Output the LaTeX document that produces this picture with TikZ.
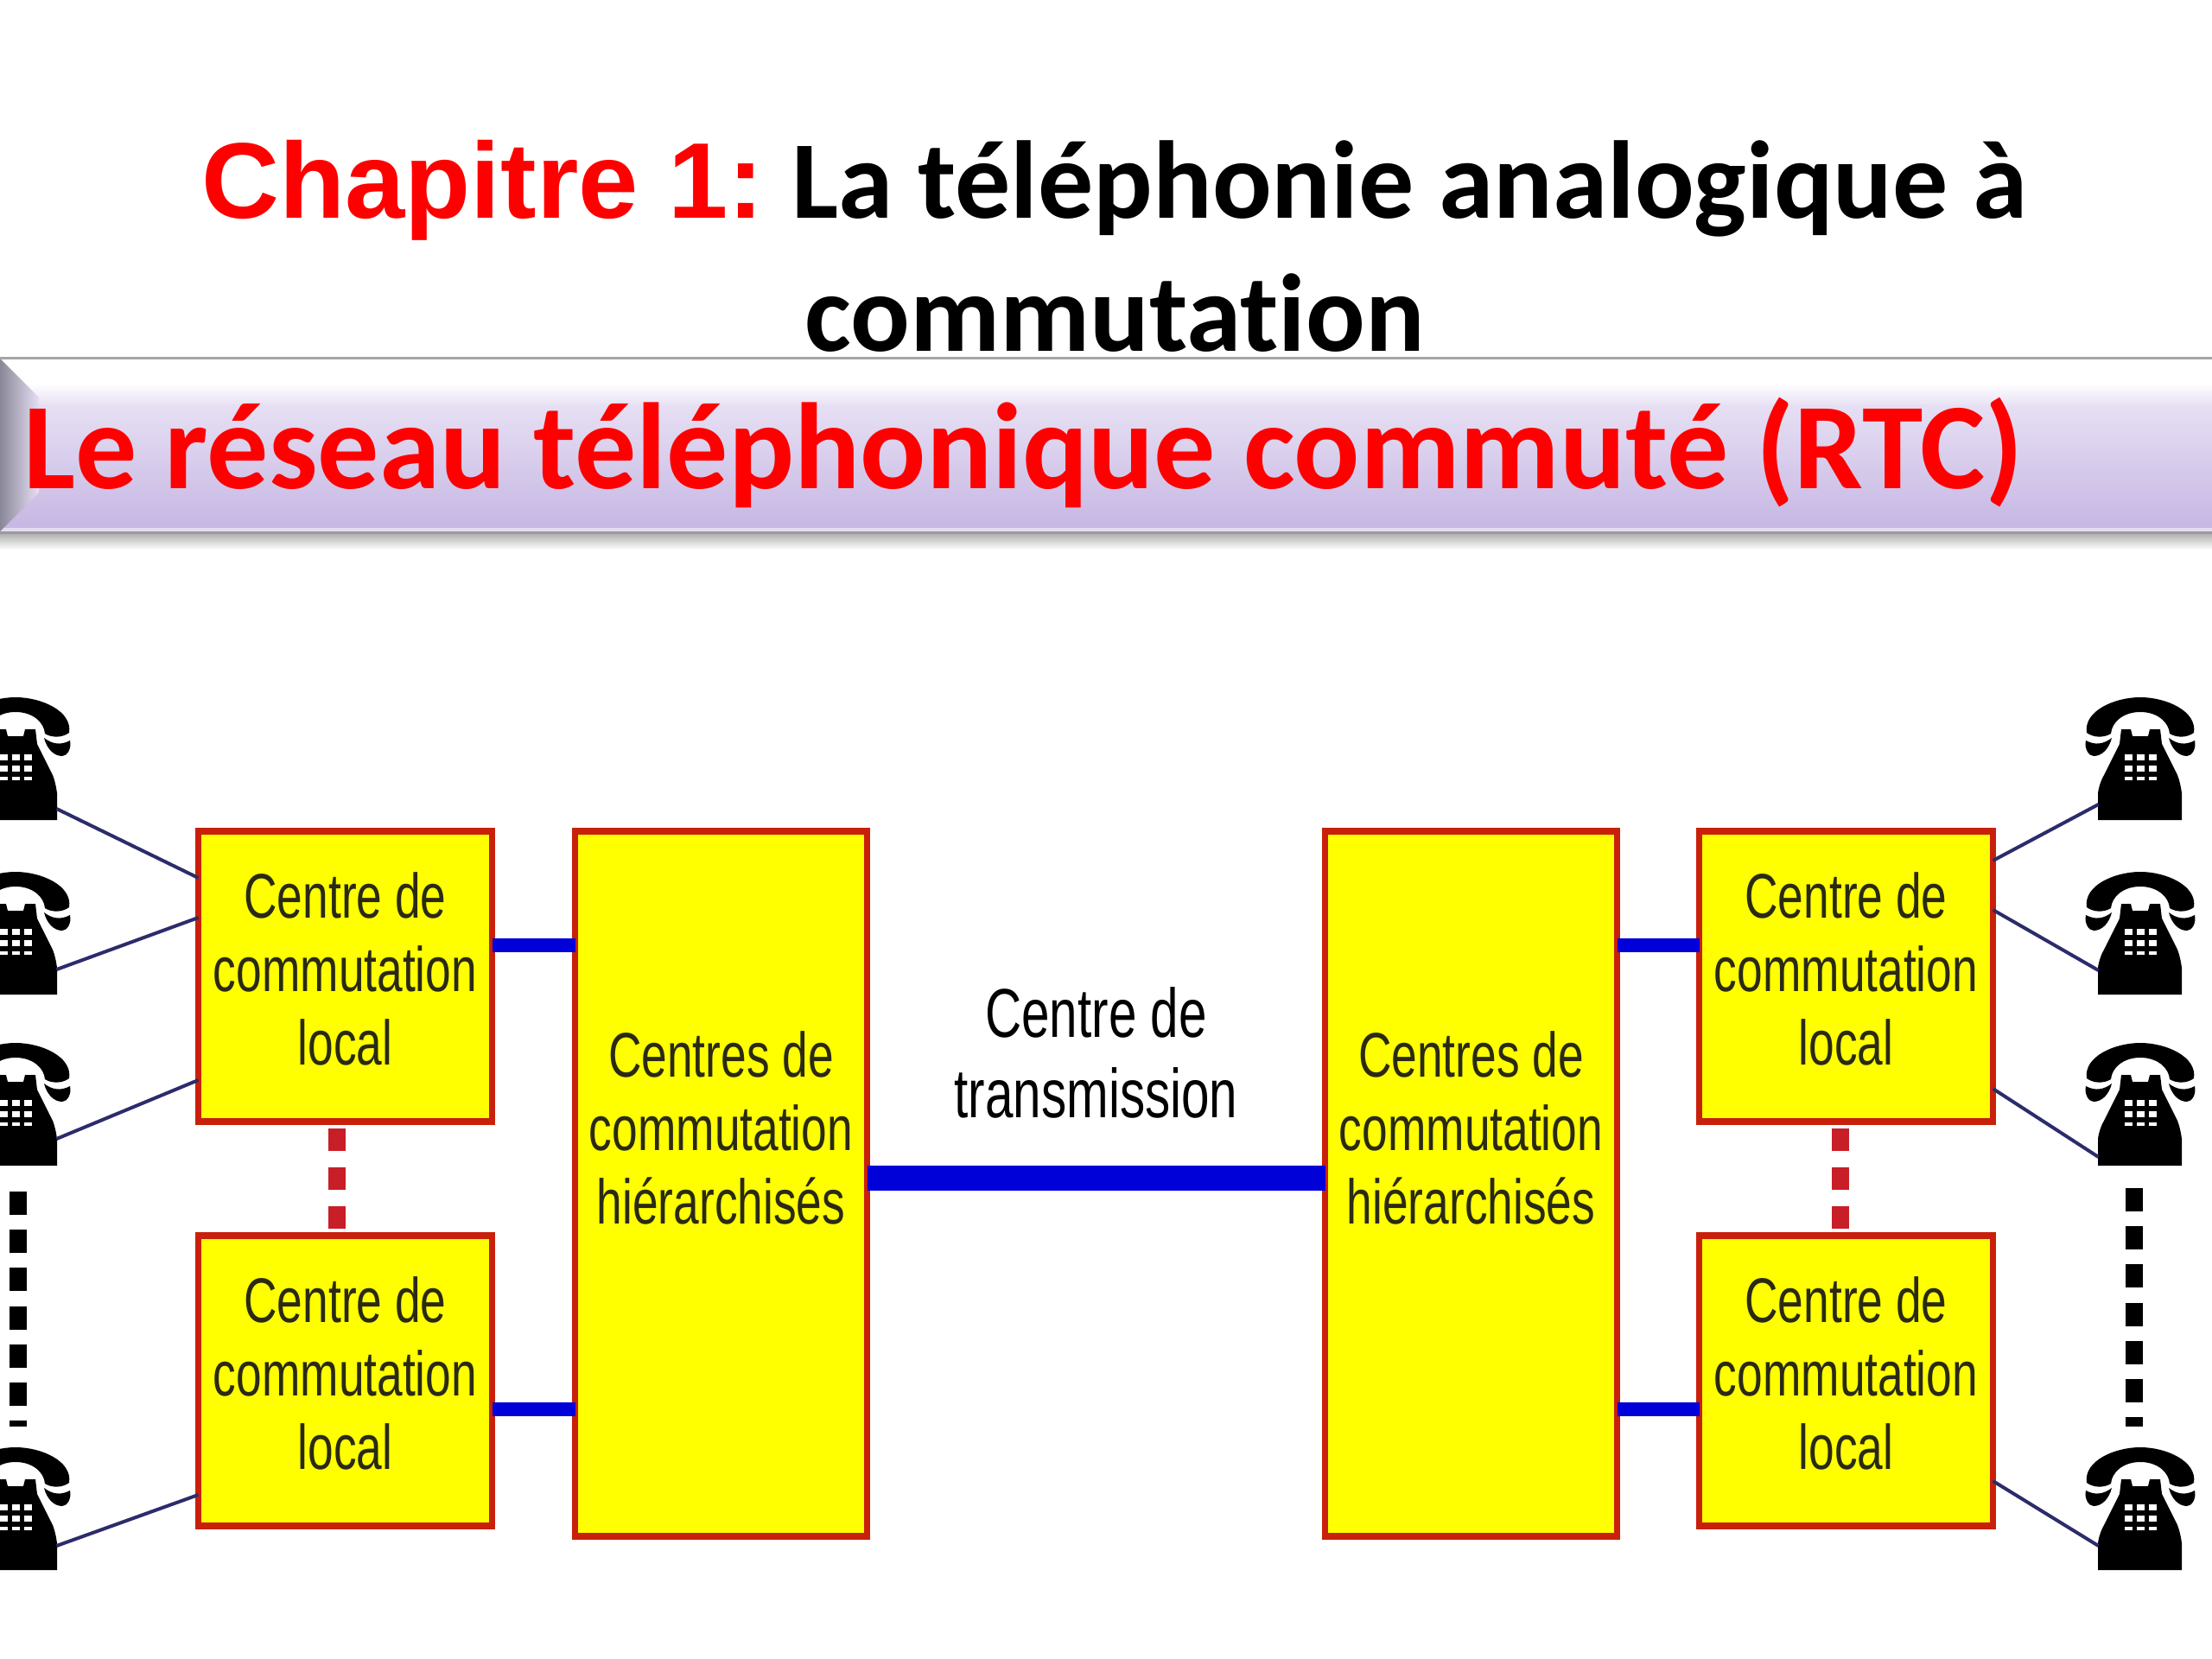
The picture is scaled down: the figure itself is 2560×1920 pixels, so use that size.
\documentclass[tikz,border=0pt]{standalone}
\usepackage{fontspec}
\setmainfont{Liberation Sans}
\newfontfamily\titlesans{Liberation Sans}
\newfontfamily\carlito[Ligatures=NoCommon]{Carlito}
\newfontfamily\narrowsans[FakeStretch=0.73]{Liberation Sans}
\usetikzlibrary{calc,positioning}
\definecolor{boxred}{HTML}{C8200A}
\definecolor{boxyellow}{HTML}{FFFF00}
\definecolor{trunkblue}{HTML}{0000D8}
\definecolor{linenavy}{HTML}{2C2C6C}
\definecolor{dashred}{HTML}{C81E28}
\definecolor{lavtop}{HTML}{E6DFF3}
\definecolor{lavbot}{HTML}{C8B8E4}
\definecolor{bevelgray}{HTML}{8A8798}
\definecolor{boxtext}{HTML}{2A2A14}
% handset, body and dial of one telephone, drawn around the node centre
\newcommand{\phoneglyph}{%
  \begin{scope}[shift={(path picture bounding box.center)}]
    \fill[black] (-49,71) -- (48,71) -- (48,40) .. controls (47,32) and (45,24) .. (43,19) -- (25,-17) -- (23,-34) -- (11,-34) -- (9,-26) -- (-9,-26) -- (-11,-34) -- (-22,-34) -- (-24,-17) -- (-42,19) .. controls (-45,24) and (-48,32) .. (-49,40) -- cycle;
    \fill[black] (-62,-30) .. controls (-66,-55) and (-30,-71) .. (0,-71) .. controls (30,-71) and (66,-55) .. (62,-30) .. controls (54,-24) and (42,-24) .. (34,-29) .. controls (33,-42) and (20,-54) .. (0,-54) .. controls (-20,-54) and (-33,-42) .. (-34,-29) .. controls (-42,-24) and (-54,-24) .. (-62,-30) -- cycle;
    \fill[black] (-63,-21) .. controls (-52,-15) and (-42,-17) .. (-33,-24) .. controls (-36,-12) and (-44,-3) .. (-54,-3) .. controls (-60,-3) and (-65,-12) .. cycle;
    \fill[black] (63,-21) .. controls (52,-15) and (42,-17) .. (33,-24) .. controls (36,-12) and (44,-3) .. (54,-3) .. controls (60,-3) and (65,-12) .. cycle;
    \foreach \dx in {-14,0,14}{
      \foreach \dy in {-2,11}{
        \fill[white] (\dx-4.5,\dy-3.5) rectangle (\dx+4.5,\dy+3.5);
      }
      \fill[white] (\dx-4.5,21) rectangle (\dx+4.5,25);
    }
  \end{scope}}
\begin{document}
\begin{tikzpicture}[
        x=0.5pt, y=-0.5pt,
        font=\narrowsans,
        localbox/.style={draw=boxred, fill=boxyellow, line width=3.6pt, outer sep=0pt, inner sep=0pt, minimum width=170pt, minimum height=168pt},
        tallbox/.style={draw=boxred, fill=boxyellow, line width=3.6pt, outer sep=0pt, inner sep=0pt, minimum width=169pt, minimum height=408pt},
        boxlab/.style={align=center, inner sep=0pt, text=boxtext, font=\narrowsans\fontsize{36.5}{42.5}\selectfont},
        phone/.style={inner sep=0pt, outer sep=0pt, minimum width=63.5pt, minimum height=71pt, path picture={\phoneglyph}},
        wire/.style={draw=linenavy, line width=2pt},
        tap/.style={draw=trunkblue, line width=8pt},
        trunk/.style={draw=trunkblue, line width=14.5pt},
        redlink/.style={draw=dashred, line width=10pt, dash pattern=on 13pt off 9.5pt},
        dots/.style={draw=black, line width=10pt, dash pattern=on 13.5pt off 8.6pt}
    ]
        \useasboundingbox (0,0) rectangle (2560,1920);
        \clip (0,0) rectangle (2560,1920);

        % Heading band
        \shade[top color=gray!70, bottom color=white] (0,615) rectangle (2560,636);
        \fill[white] (0,415) rectangle (2560,446);
        \shade[top color=white, bottom color=lavtop] (0,444) rectangle (2560,470);
        \shade[top color=lavtop, bottom color=lavbot] (0,470) rectangle (2560,605);
        \fill[lavbot] (0,605) rectangle (2560,611);
        \fill[lavbot!50!white] (0,611) rectangle (2560,615);
        \shade[left color=bevelgray, right color=lavtop] (0,415) -- (45,460) -- (45,570) -- (0,615) -- cycle;
        \draw[gray!70, line width=1.5pt] (0,415) -- (2560,415);
        \draw[gray!80, line width=1.5pt] (0,616) -- (2560,616);

        % Titles
        \node[anchor=base, inner sep=0pt, font=\fontsize{62.3}{70}\selectfont] (titleA) at (1290,253) {{\titlesans\bfseries\color{red}Chapitre 1:}\hspace{16pt}{\carlito\bfseries\fontsize{64}{70}\selectfont La téléphonie analogique à}};
        \node[anchor=base, inner sep=0pt, font=\carlito\bfseries\fontsize{64}{70}\selectfont] (titleB) at (1290,407) {commutation};
        \node[anchor=base west, inner sep=0pt, text=red, font=\carlito\bfseries\fontsize{71}{80}\selectfont] (band) at (27,566) {Le réseau téléphonique commuté (RTC)};

        % Left side boxes
        \node[localbox] (localA) at (399.5,1130) {};
        \node[localbox, below=66pt of localA] (localB) {};
        \node[tallbox, anchor=north west] (hierL) at ([xshift=48pt]localA.north east) {};

        % Right side boxes
        \node[tallbox, right=265pt of hierL] (hierR) {};
        \node[localbox, anchor=north west] (localC) at ([xshift=47.5pt]hierR.north east) {};
        \node[localbox, below=66pt of localC] (localD) {};

        % Box texts
        \foreach \nm in {localA,localB,localC,localD}{
            \node[boxlab] (\nm txt) at ([yshift=4.5pt]\nm.center) {Centre de\\commutation\\local};
        }
        \node[boxlab] (hierLtxt) at ([yshift=32.5pt]hierL.center) {Centres de\\commutation\\hiérarchisés};
        \node[boxlab] (hierRtxt) at ([yshift=32.5pt]hierR.center) {Centres de\\commutation\\hiérarchisés};

        % Blue links
        \coordinate (tapup) at (0,1094);
        \coordinate (taplow) at (0,1631);
        \draw[tap] (localA.east |- tapup) -- (hierL.west |- tapup);
        \draw[tap] (localB.east |- taplow) -- (hierL.west |- taplow);
        \draw[tap] (hierR.east |- tapup) -- (localC.west |- tapup);
        \draw[tap] (hierR.east |- taplow) -- (localD.west |- taplow);
        \coordinate (mid) at (0,1363);
        \draw[trunk] (hierL.east |- mid) -- (hierR.west |- mid) node[midway, above=27pt, boxlab, text=black, font=\narrowsans\fontsize{40}{46.5}\selectfont] (transm) {Centre de\\transmission};

        % Red links
        \draw[redlink] ([shift={(-4.75pt,-4pt)}]localA.south) -- ([xshift=-4.75pt]localB.north);
        \draw[redlink] ([shift={(-3.25pt,-4pt)}]localC.south) -- ([xshift=-3.25pt]localD.north);

        % Telephones
        \node[phone] (phoneA) at (18,878) {};
        \node[phone] (phoneB) at (18,1080) {};
        \node[phone] (phoneC) at (18,1278) {};
        \node[phone] (phoneD) at (18,1746) {};
        \node[phone] (phoneE) at (2477,878) {};
        \node[phone] (phoneF) at (2477,1080) {};
        \node[phone] (phoneG) at (2477,1278) {};
        \node[phone] (phoneH) at (2477,1746) {};

        % Phone lines
        \draw[wire] ([shift={(-16,-13)}]phoneA.south east) -- ([yshift=57pt]localA.west);
        \draw[wire] ([shift={(-16,-29)}]phoneB.south east) -- ([yshift=34pt]localA.west);
        \draw[wire] ([shift={(-16,-31)}]phoneC.south east) -- ([yshift=-60pt]localA.west);
        \draw[wire] ([shift={(-16,-28)}]phoneD.south east) -- ([yshift=-66pt]localB.west);
        \draw[wire] (localC.east |- 0,996) -- ([shift={(15,-18)}]phoneE.south west);
        \draw[wire] (localC.east |- 0,1053) -- ([shift={(15,-28)}]phoneF.south west);
        \draw[wire] (localC.east |- 0,1260) -- ([shift={(15,-10)}]phoneG.south west);
        \draw[wire] (localD.east |- 0,1714) -- ([shift={(15,-28)}]phoneH.south west);

        % Dotted columns
        \coordinate (dotsLa) at (21,1379);
        \coordinate (dotsLb) at (21,1651);
        \coordinate (dotsRa) at (2470,1375);
        \coordinate (dotsRb) at (2470,1651);
        \draw[dots] (dotsLa) -- (dotsLb);
        \draw[dots] (dotsRa) -- (dotsRb);
    \end{tikzpicture}
\end{document}
